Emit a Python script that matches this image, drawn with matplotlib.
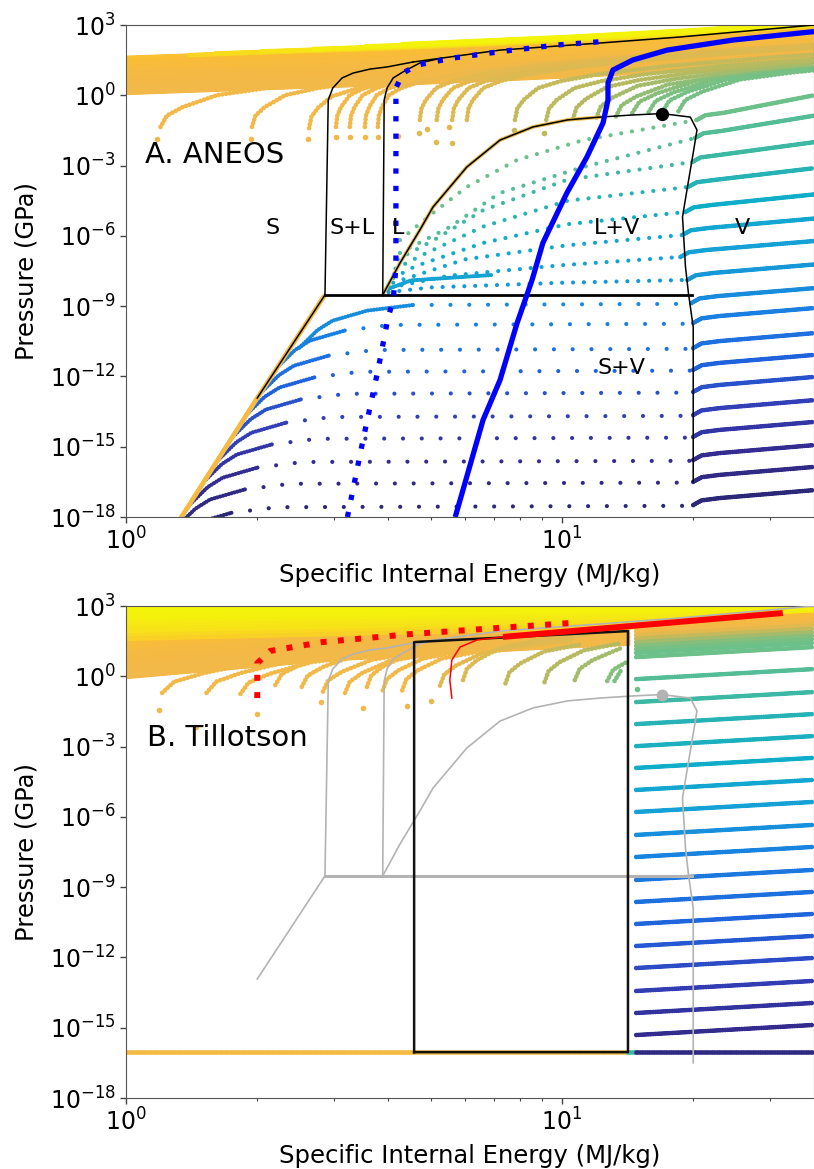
import numpy as np
import matplotlib
matplotlib.use("Agg")
import matplotlib.pyplot as plt
from matplotlib.colors import LinearSegmentedColormap
from matplotlib.ticker import NullLocator, NullFormatter

# ---------------- colour scale for the isochores (normalised density) ----------------
cmap_pos = [0.0, 0.08, 0.16, 0.24, 0.32, 0.40, 0.48, 0.56, 0.64, 0.72, 0.80, 0.86, 0.93, 1.0]
cmap_hex = ['#2c2878', '#342c92', '#3240b8', '#2062dc', '#1a80e0', '#15a0d6', '#10adc9',
            '#3db8a4', '#6cc08a', '#b4ba62', '#f2b848', '#fbbd34', '#f8d820', '#f4f40a']
cmap = LinearSegmentedColormap.from_list('parula_like', list(zip(cmap_pos, cmap_hex)))

E_MAX = 37.85

# ---------------- phase boundaries (energy MJ/kg, log10 pressure GPa) ----------------
solidus_e = [2.86, 2.91, 2.98, 3.13, 3.32, 3.63, 3.97, 4.55]
solidus_lp = [-8.52, -0.20, 0.31, 0.74, 0.95, 1.12, 1.21, 1.42]
liquidus_e = [3.88, 3.91, 3.97, 4.10, 4.32, 4.72, 5.30]
liquidus_lp = [-8.52, -0.20, 0.31, 0.74, 1.00, 1.38, 1.59]
top_e = [4.55, 7.21, 12.2, 18.7, 37.85]
top_lp = [1.42, 1.93, 2.23, 2.49, 3.0]
sublim_e = [2.0, 2.86]
sublim_lp = [-12.92, -8.52]
triple_e = [2.86, 19.9]
triple_lp = [-8.52, -8.52]
dome_e = [3.88, 4.25, 4.72, 5.06, 6.05, 7.21, 8.58, 10.3, 12.2, 14.5, 16.96, 19.7, 20.4,
          20.0, 19.4, 18.9, 19.2, 19.5, 20.0, 20.0, 20.0]
dome_lp = [-8.52, -7.16, -5.75, -4.77, -3.06, -1.91, -1.35, -1.05, -0.93, -0.84, -0.78, -0.93,
           -1.48, -2.46, -3.91, -5.19, -7.33, -8.44, -9.9, -13.0, -16.5]
crit_e, crit_lp = 16.96, -0.78

# ---------------- panel A extra curves ----------------
blue_dot_e = [3.22, 3.50, 3.78, 3.99, 4.10, 4.16, 4.16, 4.32, 4.65, 5.62, 7.40, 9.79, 12.9]
blue_dot_lp = [-18.0, -14.67, -11.77, -9.5, -8.74, -7.33, 0.31, 0.95, 1.29, 1.59, 1.89, 2.15, 2.32]
blue_e = [5.69, 6.59, 7.21, 7.89, 8.54, 9.04, 10.26, 11.41, 12.42, 12.75, 12.75, 13.09, 14.55,
          17.42, 24.7, 37.85]
blue_lp = [-18.0, -13.86, -12.15, -9.72, -7.88, -6.30, -4.17, -2.63, -1.18, -0.20, 0.52, 1.08,
           1.51, 1.93, 2.36, 2.72]

# ---------------- panel B extra curves ----------------
red_thick_e = [7.32, 32.1]
red_thick_lp = [1.68, 2.70]
red_thin_e = [5.59, 5.53, 5.59, 5.84, 6.38, 7.32]
red_thin_lp = [-0.93, -0.16, 0.70, 1.25, 1.55, 1.68]
red_dot_e = [2.0, 2.0, 2.14, 2.82, 4.48, 6.49, 10.4]
red_dot_lp = [-0.93, 0.56, 1.08, 1.46, 1.80, 2.01, 2.27]
box_e = [4.58, 4.58, 14.17, 14.17, 4.58]
box_lp = [-16.04, 1.46, 1.93, -16.04, -16.04]

# ---------------- panel A isochores ----------------
# dense high-density band entering from the left edge
band_x = [1.0, 2.0, 4.25, 10.0, 20.0, 37.85]
band_rise = [0.0, 0.2, 0.4, 0.7, 1.0, 1.35]
band_a_lp0 = [1.60, 1.50, 1.40, 1.29, 1.18, 1.07, 0.96, 0.85, 0.74, 0.63, 0.52, 0.40, 0.28, 0.16, 0.10]
band_a_c = [0.87, 0.86, 0.85, 0.84, 0.83, 0.83, 0.82, 0.82, 0.81, 0.81, 0.81, 0.80, 0.80, 0.80, 0.80]
yellow_a_lp0 = [1.62, 1.65, 1.67, 1.70, 1.74, 1.78]
yellow_a_x0 = [1.40, 1.60, 2.05, 2.69, 3.55, 4.30]
yellow_a_c = [0.92, 0.94, 0.96, 0.98, 0.99, 1.0]

arc_de = [0, 0.04, 0.15, 0.42, 0.9, 1.8, 4.0, 9.0, 20.0, 45.0]
arc_dlp = [0, 0.48, 0.85, 1.36, 1.66, 1.95, 2.3, 2.65, 3.0, 3.35]
arcs_a_e0 = [1.20, 1.945, 2.63, 3.03, 3.26, 3.53, 3.78, 4.72, 5.16, 5.60, 6.05,
             7.8, 9.2, 10.6, 12.0, 13.3, 14.5, 15.8, 17.0, 18.5]
arcs_a_lp0 = [-1.35, -1.35, -1.40, -1.35, -1.35, -1.35, -1.35, -1.05, -1.05, -1.05, -1.05,
              -1.05, -1.05, -1.0, -0.95, -0.9, -0.75, -0.72, -0.70, -0.68]
arcs_a_s = [1.0, 0.9, 0.8, 0.55, 0.55, 0.55, 0.55, 1.0, 1.1, 1.2, 1.3,
            2.4, 3.5, 5.0, 7.0, 10.0, 14.0, 15.0, 16.0, 17.0]
arcs_a_c = [0.80, 0.80, 0.80, 0.80, 0.80, 0.80, 0.79, 0.78, 0.78, 0.77, 0.77,
            0.74, 0.73, 0.72, 0.70, 0.68, 0.67, 0.66, 0.65, 0.65]
# isolated low dots below the arc starts
tails_a_e = [1.18, 1.93, 2.62, 3.03, 3.26, 3.53, 3.78, 4.70, 5.15, 5.58, 7.75, 9.1, 4.2, 4.9, 5.5]
tails_a_lp = [-1.87, -1.87, -1.85, -1.8, -1.8, -1.8, -1.8, -1.6, -2.0, -2.05, -1.5, -1.6, -1.75, -1.45, -1.35]
tails_a_c = [0.80, 0.80, 0.80, 0.80, 0.80, 0.80, 0.79, 0.78, 0.78, 0.77, 0.74, 0.73, 0.79, 0.78, 0.78]

# low-density isochores: vapour rows right of the dome
vap_lp_a = [-1.05, -1.82, -2.85, -3.91, -4.98, -5.96, -6.90, -7.88, -8.87, -9.72, -10.79,
            -11.72, -12.66, -13.65, -14.58, -15.57, -16.50, -17.49]
vap_x0_a = [20.4, 20.2, 19.9, 19.5, 19.2, 18.9, 18.7, 19.4, 19.8, 20.0, 20.0,
            20.0, 20.0, 20.0, 20.0, 20.0, 20.0, 20.0]
vap_rise_a = [1.05, 0.95, 0.85, 0.80, 0.75, 0.70, 0.68, 0.66, 0.64, 0.64, 0.64,
              0.64, 0.64, 0.64, 0.64, 0.64, 0.64, 0.64]
vap_c_a = [0.64, 0.60, 0.56, 0.52, 0.48, 0.44, 0.41, 0.38, 0.35, 0.32, 0.28,
           0.24, 0.20, 0.16, 0.12, 0.08, 0.04, 0.0]
hook_fx = [1.0, 1.045, 1.15]
hook_dlp = [0.0, 0.2, 0.3]

# the same rows inside the liquid + vapour dome
lv_e = [[4.25, 5.06, 6.05, 7.89, 11.2],
        [4.25, 5.53, 7.2, 11.2],
        [4.2, 5.06, 6.6, 10.3],
        [4.15, 4.8, 6.6, 10.3],
        [4.1, 4.6, 6.6, 10.3],
        [4.1, 6.0, 10.3],
        [4.05, 5.5, 10.0],
        [4.0, 5.0, 10.0]]
lv_lp = [[-6.18, -5.02, -3.91, -2.76, -1.91],
         [-6.73, -5.62, -4.17, -3.06],
         [-7.0, -6.2, -4.9, -3.6],
         [-7.4, -6.8, -5.6, -4.5],
         [-7.8, -7.3, -6.3, -5.5],
         [-8.0, -7.0, -6.4],
         [-8.2, -7.7, -7.25],
         [-8.4, -8.2, -8.0]]
teal_e = [3.95, 4.5, 6.9]
teal_lp = [-8.3, -7.9, -7.67]

# the same rows in the solid + vapour region, starting on the sublimation edge
sv_x0 = [2.50, 2.22, 2.04, 1.89, 1.76, 1.63, 1.51, 1.40, 1.31, 1.22]
sv_lp0 = [-10.77, -11.62, -12.69, -13.62, -14.56, -15.55, -16.48, -17.47, -18.4, -19.4]
sv_fx = [1.0, 1.10, 1.19, 1.43, 1.82]
sv_dlp = [0.0, 0.75, 1.15, 1.58, 1.82]
sv_dense = [5, 4, 4, 4, 4, 4, 4, 4, 4, 4]
sub_edge_e = [1.34, 2.0, 2.86]
sub_edge_lp = [-18.0, -12.92, -8.52]

# ---------------- panel B isochores ----------------
yellow_b_l = [2.95, 2.80, 2.65, 2.50, 2.35, 2.20, 2.05, 1.90, 1.75, 1.60]
yellow_b_r = [3.10, 3.00, 2.90, 2.80, 2.70, 2.60, 2.50, 2.42, 2.35, 2.27]
yellow_b_c = [1.0, 1.0, 0.99, 0.99, 0.98, 0.97, 0.96, 0.95, 0.93, 0.91]
bandb_x = [1.0, 1.76, 2.93, 4.25, 10.0, 14.2]
bandb_rise = [0.0, 0.40, 0.75, 0.92, 1.30, 1.42]
band_b_lp0 = [1.45, 1.30, 1.15, 1.00, 0.85, 0.70, 0.55, 0.40, 0.25, 0.10, -0.03]
band_b_c = [0.85, 0.84, 0.83, 0.82, 0.82, 0.81, 0.81, 0.80, 0.80, 0.80, 0.80]
arcs_b_e0 = [1.21, 1.53, 1.83, 2.20, 2.53, 2.83, 3.18, 3.57, 3.88, 4.30, 5.25, 5.93,
             7.42, 9.12, 10.7, 12.7, 13.2]
arcs_b_lp0 = [-0.71, -0.71, -0.75, -0.37, -0.45, -0.65, -0.71, -0.45, -0.60, -0.60, -0.40,
              -0.16, -0.30, -0.25, -0.16, -0.20, -0.20]
arcs_b_s = [2.0, 2.0, 2.0, 2.0, 2.0, 2.0, 2.0, 2.0, 2.2, 2.4, 3.0, 3.0, 4.0, 5.0, 7.0, 10.0, 12.0]
arcs_b_c = [0.80, 0.80, 0.80, 0.80, 0.80, 0.80, 0.80, 0.80, 0.80, 0.80, 0.78, 0.77,
            0.74, 0.72, 0.70, 0.67, 0.66]
tails_b_e = [1.19, 1.45, 2.0, 2.8, 3.5, 4.4, 5.0, 14.9]
tails_b_lp = [-1.45, -2.15, -1.6, -1.1, -1.35, -1.25, -1.05, -0.55]
tails_b_c = [0.80, 0.80, 0.80, 0.80, 0.80, 0.79, 0.78, 0.64]
rows_b_lp = [2.2, 2.05, 1.9, 1.75, 1.6, 1.45, 1.3, 1.15, 1.0, 0.82, -0.12, -1.10, -2.04,
             -2.98, -3.91, -4.85, -5.79, -6.77, -7.71, -8.69, -9.63, -10.57, -11.51,
             -12.45, -13.43, -14.37, -15.31]
rows_b_c = [0.84, 0.82, 0.80, 0.78, 0.74, 0.70, 0.67, 0.65, 0.64, 0.64, 0.60, 0.56, 0.52,
            0.50, 0.48, 0.44, 0.40, 0.36, 0.33, 0.30, 0.28, 0.25, 0.22, 0.19, 0.15, 0.11, 0.07]
rows_b_x = [14.8, 37.85]
rows_b_rise = 0.43
floor_b_lp = -16.04
floor_b_e = [[1.0, 14.2], [14.2, 14.8], [14.8, 37.85]]
floor_b_c = [0.82, 0.56, 0.03]


def P(lp):
    return np.power(10.0, np.asarray(lp, dtype=float))


def dots(ax, e, lp, c, gap=0.6, lw=3.4, z=1):
    ax.plot(e, P(lp), color=cmap(c), lw=lw, ls=(0, (0.01, gap)),
            dash_capstyle='round', zorder=z)


def single_dots(ax, e, lp, cs, ms=4.0):
    for x, l, c in zip(e, lp, cs):
        ax.plot([x], [10 ** l], 'o', ms=ms, mew=0, color=cmap(c), zorder=1)


def band_line(ax, xs, rise, lp0, c, x0=None):
    xs = np.asarray(xs, dtype=float)
    lp = lp0 + np.asarray(rise)
    if x0 is not None:
        lp_start = np.interp(np.log10(x0), np.log10(xs), lp)
        keep = xs > x0
        xs = np.concatenate([[x0], xs[keep]])
        lp = np.concatenate([[lp_start], lp[keep]])
    dots(ax, xs, lp, c, gap=0.5)


def arc(ax, e0, lp0, s, c, emax=None):
    e = e0 + s * np.asarray(arc_de)
    lp = lp0 + np.asarray(arc_dlp)
    if emax is not None:
        keep = e <= emax
        e, lp = e[keep], lp[keep]
    dots(ax, e, lp, c, gap=0.8)


def boundaries(ax, col, lw_thin, lw_thick, z=3):
    for e, lp in [(solidus_e, solidus_lp), (liquidus_e, liquidus_lp), (top_e, top_lp),
                  (sublim_e, sublim_lp), (dome_e, dome_lp)]:
        ax.plot(e, P(lp), color=col, lw=lw_thin, zorder=z)
    ax.plot(triple_e, P(triple_lp), color=col, lw=lw_thick, zorder=z)


fig = plt.figure(figsize=(8.14, 11.69), dpi=100)
axA = fig.add_axes([0.1548, 0.5577, 0.8452, 0.4209])
axB = fig.add_axes([0.1548, 0.0607, 0.8452, 0.4209])

# ======================= A. ANEOS =======================
for lp0, c in zip(band_a_lp0, band_a_c):
    band_line(axA, band_x, band_rise, lp0, c)
for lp0, x0, c in zip(yellow_a_lp0, yellow_a_x0, yellow_a_c):
    band_line(axA, band_x, band_rise, lp0, c, x0=x0)
for e0, lp0, s, c in zip(arcs_a_e0, arcs_a_lp0, arcs_a_s, arcs_a_c):
    arc(axA, e0, lp0, s, c)
single_dots(axA, tails_a_e, tails_a_lp, tails_a_c)

for i, (lpv, x0, rise, c) in enumerate(zip(vap_lp_a, vap_x0_a, vap_rise_a, vap_c_a)):
    # vapour part (dense)
    ve = [x0 * f for f in hook_fx] + [E_MAX]
    vl = [lpv + d for d in hook_dlp] + [lpv + rise]
    dots(axA, ve, vl, c, gap=0.5)
    if i < len(lv_e):
        dots(axA, lv_e[i] + [x0], lv_lp[i] + [lpv], c, gap=2.6, lw=3.0)
    else:
        k = i - len(lv_e)
        nd = sv_dense[k]
        se = [sv_x0[k] * f for f in sv_fx]
        sl = [sv_lp0[k] + d for d in sv_dlp]
        dots(axA, se[:nd], sl[:nd], c, gap=0.7, lw=3.0)
        dots(axA, se[nd - 1:] + [x0 * 0.99], sl[nd - 1:] + [lpv - 0.03], c, gap=4.5, lw=3.0)

dots(axA, teal_e, teal_lp, 0.42, gap=0.6, lw=3.0)
dots(axA, sub_edge_e, sub_edge_lp, 0.82, gap=0.5, lw=3.6, z=2)
axA.plot(dome_e[:9], P(dome_lp[:9]), color=cmap(0.78), lw=2.6, zorder=2)

boundaries(axA, 'black', 1.1, 2.0)
axA.plot([crit_e], [10 ** crit_lp], 'o', color='black', ms=8.5, zorder=5)

axA.plot(blue_e, P(blue_lp), color='#0000ff', lw=3.8, zorder=4, solid_capstyle='butt')
axA.plot(blue_dot_e, P(blue_dot_lp), color='#0000ff', lw=3.8, ls=(0, (1, 2.3)),
         dash_capstyle='butt', zorder=4)

for x, lp, s in [(2.17, -5.66, 'S'), (3.30, -5.66, 'S+L'), (4.2, -5.66, 'L'),
                 (13.4, -5.66, 'L+V'), (26.0, -5.66, 'V'), (13.7, -11.64, 'S+V')]:
    axA.text(x, 10 ** lp, s, ha='center', va='center', fontsize=16, zorder=6)
axA.text(1.105, 10 ** -2.55, 'A. ANEOS', ha='left', va='center', fontsize=21, zorder=6)

# ======================= B. Tillotson =======================
for lp0, c in zip(band_b_lp0, band_b_c):
    band_line(axB, bandb_x, bandb_rise, lp0, c)
for e0, lp0, s, c in zip(arcs_b_e0, arcs_b_lp0, arcs_b_s, arcs_b_c):
    arc(axB, e0, lp0, s, c, emax=14.2)
single_dots(axB, tails_b_e, tails_b_lp, tails_b_c)
for lpl, lpr, c in zip(yellow_b_l, yellow_b_r, yellow_b_c):
    dots(axB, [1.0, E_MAX], [lpl, lpr], c, gap=0.5)
for lp0, c in zip(rows_b_lp, rows_b_c):
    dots(axB, rows_b_x, [lp0, lp0 + rows_b_rise], c, gap=0.5)
for e, c in zip(floor_b_e, floor_b_c):
    dots(axB, e, [floor_b_lp, floor_b_lp], c, gap=0.5)

boundaries(axB, '#b3b3b3', 1.2, 2.2)
axB.plot([crit_e], [10 ** crit_lp], 'o', color='#b3b3b3', ms=7.5, zorder=5)
axB.plot(box_e, P(box_lp), color='#111111', lw=1.8, zorder=4)

axB.plot(red_thick_e, P(red_thick_lp), color='#ff0000', lw=4.3, zorder=5, solid_capstyle='butt')
axB.plot(red_thin_e, P(red_thin_lp), color='#ff0000', lw=1.1, zorder=5)
axB.plot(red_dot_e, P(red_dot_lp), color='#ff0000', lw=4.3, ls=(0, (1, 1.9)),
         dash_capstyle='butt', zorder=5)
axB.text(1.117, 10 ** -2.63, 'B. Tillotson', ha='left', va='center', fontsize=21, zorder=6)

# ======================= axes styling =======================
for ax in (axA, axB):
    ax.set_xscale('log')
    ax.set_yscale('log')
    ax.set_xlim(1, E_MAX)
    ax.set_ylim(1e-18, 1e3)
    ax.set_yticks(10.0 ** np.arange(-18, 4, 3))
    ax.yaxis.set_minor_locator(NullLocator())
    ax.xaxis.set_minor_formatter(NullFormatter())
    ax.tick_params(which='major', labelsize=17, length=4, width=1, color='#444444')
    ax.tick_params(which='minor', length=2.5, width=0.8, color='#444444')
    for sp in ax.spines.values():
        sp.set_color('#555555')
    ax.set_xlabel('Specific Internal Energy (MJ/kg)', fontsize=17.5, labelpad=6)
    ax.set_ylabel('Pressure (GPa)', fontsize=17.5, labelpad=8)

fig.savefig('out.png', dpi=100)
